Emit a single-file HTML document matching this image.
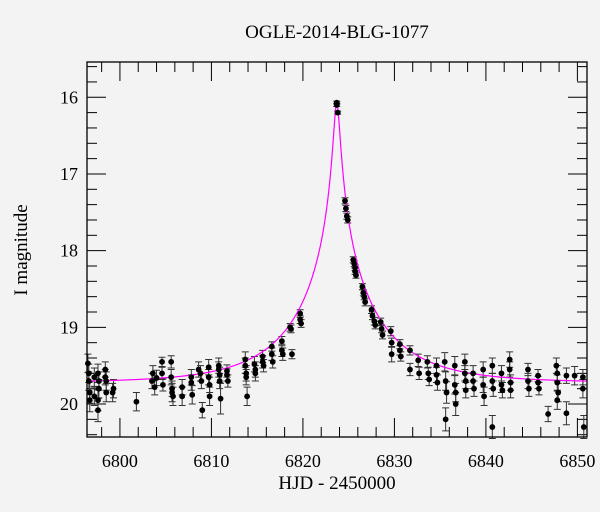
<!DOCTYPE html>
<html><head><meta charset="utf-8">
<style>
html,body{margin:0;padding:0;background:#f3f3f3;}
svg{display:block;font-family:"Liberation Serif","DejaVu Serif",serif;}
</style></head>
<body>
<svg id="chart" width="600" height="512" viewBox="0 0 600 512" xmlns="http://www.w3.org/2000/svg">
<rect x="0" y="0" width="600" height="512" fill="#f3f3f3"/>
<text x="337" y="38" font-size="19" text-anchor="middle">OGLE-2014-BLG-1077</text>
<text x="337" y="489" font-size="19" text-anchor="middle">HJD - 2450000</text>
<text transform="translate(27,250) rotate(-90)" font-size="19" text-anchor="middle">I magnitude</text>
<g id="ticks"></g>
<g id="labels"></g>
<g id="errs"></g>
<path id="model" fill="none" stroke="#ff00ff" stroke-width="1.2"/>
<g id="pts"></g>
<rect x="87" y="62" width="500" height="375" fill="none" stroke="#000" stroke-width="1.3"/>
</svg>
<script>
const xTickLabels = [6800, 6810, 6820, 6830, 6840, 6850];
const yTickLabels = [16, 17, 18, 19, 20];
const model = { t0: 6823.7, u0: 0.035, tE: 9.3, base: 19.72 };
const times = [
6796.5,6796.6,6796.6,6796.7,6796.7,6797.2,6797.2,6797.6,6797.6,6797.7,6797.6,6797.7,
6798.4,6798.4,6798.5,6798.5,6799.2,6799.3,6801.8,
6803.5,6803.6,6803.8,6804.0,6804.6,6804.6,6804.7,6805.6,6805.6,6805.7,6805.7,6805.8,
6806.8,6806.8,6807.8,6807.8,6807.9,6808.6,6808.8,6808.9,6809.0,6809.7,6809.7,6809.8,6809.8,
6810.8,6810.8,6810.9,6810.9,6811.0,6811.7,6811.7,6811.8,
6813.7,6813.7,6813.8,6813.8,6813.9,6814.7,6814.8,6814.8,6815.6,6815.6,6815.7,
6816.6,6816.6,6816.7,6817.7,6817.7,6817.8,6818.6,6818.7,6818.8,6819.7,6819.7,6819.8,
6823.7,6823.7,6823.8,6824.6,6824.7,6824.8,6824.9,6825.5,6825.6,6825.7,6825.7,6825.8,
6826.5,6826.6,6826.7,6826.8,6827.5,6827.6,6827.8,6827.9,6828.5,6828.6,6828.7,
6829.6,6829.7,6829.7,6830.6,6830.6,6830.7,6831.7,6831.7,6832.6,6832.7,
6833.6,6833.7,6833.8,6834.6,6834.6,6834.7,6835.5,6835.6,6835.7,6835.6,
6836.6,6836.6,6836.7,6836.7,6837.7,6837.7,6837.8,6837.8,6838.6,6838.6,6838.7,
6839.7,6839.7,6839.8,6840.7,6840.7,6840.8,6840.7,6841.7,6841.7,6841.8,
6842.6,6842.6,6842.7,6842.7,6844.6,6844.6,6844.7,6845.7,6845.7,6845.8,6846.8,
6847.7,6847.8,6847.8,6847.9,6847.8,6848.8,6848.8,6849.7,6850.6,6850.6,6850.7
];
const mags = [
19.47,19.6,19.7,19.85,19.95,19.9,19.65,20.08,19.95,19.8,19.6,19.7,
19.55,19.65,19.7,19.85,19.85,19.8,19.97,
19.7,19.6,19.78,19.66,19.45,19.6,19.75,19.45,19.65,19.8,19.85,19.9,
19.78,19.9,19.65,19.72,19.88,19.55,19.6,19.7,20.08,19.52,19.65,19.75,19.9,
19.5,19.55,19.62,19.7,19.93,19.57,19.62,19.7,
19.42,19.5,19.6,19.65,19.9,19.48,19.55,19.6,19.38,19.45,19.5,
19.25,19.35,19.45,19.18,19.3,19.35,19.0,19.02,19.35,18.82,18.9,18.95,
16.07,16.1,16.2,17.35,17.45,17.55,17.6,18.12,18.17,18.22,18.27,18.32,
18.47,18.55,18.6,18.67,18.77,18.85,18.92,18.97,18.93,19.02,19.1,
19.05,19.2,19.35,19.22,19.3,19.38,19.3,19.55,19.43,19.6,
19.45,19.6,19.68,19.5,19.62,19.72,19.45,19.7,19.85,20.2,
19.5,19.75,19.85,20.0,19.45,19.6,19.7,19.82,19.6,19.7,19.8,
19.55,19.75,19.9,19.5,19.7,19.8,20.3,19.6,19.75,19.82,
19.42,19.55,19.72,19.82,19.55,19.7,19.8,19.63,19.72,19.8,20.13,
19.5,19.6,19.72,19.85,19.95,19.63,20.12,19.63,19.65,19.8,20.3
];
const errs = [
0.12,0.12,0.12,0.14,0.15,0.12,0.12,0.15,0.14,0.12,0.12,0.12,
0.1,0.1,0.12,0.12,0.12,0.12,0.12,
0.1,0.1,0.1,0.1,0.06,0.08,0.08,0.08,0.1,0.1,0.12,0.12,
0.1,0.12,0.1,0.1,0.12,0.1,0.1,0.1,0.1,0.1,0.1,0.1,0.12,
0.1,0.1,0.1,0.1,0.2,0.08,0.08,0.08,
0.1,0.1,0.1,0.1,0.12,0.1,0.1,0.1,0.08,0.08,0.08,
0.06,0.08,0.08,0.06,0.08,0.08,0.05,0.05,0.06,0.05,0.05,0.05,
0.02,0.02,0.02,0.04,0.04,0.04,0.04,0.04,0.04,0.04,0.04,0.04,
0.04,0.04,0.04,0.05,0.05,0.05,0.05,0.05,0.05,0.05,0.05,
0.06,0.06,0.1,0.06,0.06,0.06,0.06,0.08,0.08,0.08,
0.08,0.08,0.08,0.1,0.1,0.1,0.12,0.12,0.14,0.15,
0.12,0.12,0.12,0.15,0.1,0.1,0.1,0.1,0.1,0.1,0.1,
0.1,0.1,0.12,0.1,0.1,0.1,0.15,0.1,0.1,0.1,
0.1,0.1,0.1,0.1,0.08,0.1,0.1,0.08,0.08,0.08,0.1,
0.1,0.1,0.1,0.12,0.12,0.1,0.15,0.12,0.1,0.12,0.15
];
const NS = "http://www.w3.org/2000/svg";
const L = 87, R = 587, T = 62, B = 437;
const xMin = 6796.4, xMax = 6851.05, yMin = 15.54, yMax = 20.43;
function xs(d){ return L + (d - xMin) / (xMax - xMin) * (R - L); }
function ys(m){ return T + (m - yMin) / (yMax - yMin) * (B - T); }
function mk(tag, attrs, parent){ const e = document.createElementNS(NS, tag); for (const k in attrs) e.setAttribute(k, attrs[k]); parent.appendChild(e); return e; }
const gT = document.getElementById('ticks'), gL = document.getElementById('labels');
for (let d = 6798; d <= 6850; d += 2) {
  const major = d % 10 === 0, len = major ? 19 : 10, x = xs(d);
  const t1 = mk('line', {x1:x, x2:x, y1:T, y2:T+len, stroke:'#000', 'stroke-width':1}, gT);
  
  
  const t2 = mk('line', {x1:x, x2:x, y1:B, y2:B-len, stroke:'#000', 'stroke-width':1}, gT);
  
  
}
xTickLabels.forEach(v => {
  const t = mk('text', {x:xs(v), y:467, 'font-size':18, 'text-anchor':'middle'}, gL);
  t.textContent = v;
  
  
});
for (let i = 0; i <= 24; i++) {
  const m = 15.6 + i * 0.2; if (m > yMax) break;
  const major = Math.abs(m - Math.round(m)) < 0.01, len = major ? 19 : 10, y = ys(m);
  const t1 = mk('line', {x1:L, x2:L+len, y1:y, y2:y, stroke:'#000', 'stroke-width':1}, gT);
  
  
  const t2 = mk('line', {x1:R, x2:R-len, y1:y, y2:y, stroke:'#000', 'stroke-width':1}, gT);
  
  
}
yTickLabels.forEach(v => {
  const t = mk('text', {x:78, y:ys(v)+6, 'font-size':18, 'text-anchor':'end'}, gL);
  t.textContent = v;
  
  
});
function magAt(t){ const u = Math.hypot(model.u0, (t - model.t0) / model.tE); const A = (u*u+2)/(u*Math.sqrt(u*u+4)); return model.base - 2.5*Math.log10(A); }
let dpath = '';
for (let t = xMin; t <= xMax; t += 0.02) dpath += (dpath ? 'L' : 'M') + xs(t).toFixed(2) + ' ' + ys(magAt(t)).toFixed(2);
document.getElementById('model').setAttribute('d', dpath);
const gE = document.getElementById('errs'), gP = document.getElementById('pts');
times.forEach((t, i) => {
  const x = xs(t), y1 = ys(mags[i] - errs[i]), y2 = ys(mags[i] + errs[i]);
  const e = mk('path', {d:`M${x} ${y1}V${y2}M${x-3.5} ${y1}H${x+3.5}M${x-3.5} ${y2}H${x+3.5}`, stroke:'#333', 'stroke-width':1, fill:'none'}, gE);
  
  
  const c = mk('circle', {cx:x, cy:ys(mags[i]), r:2.9, fill:'#000'}, gP);
  
  
});
</script>
</body></html>
